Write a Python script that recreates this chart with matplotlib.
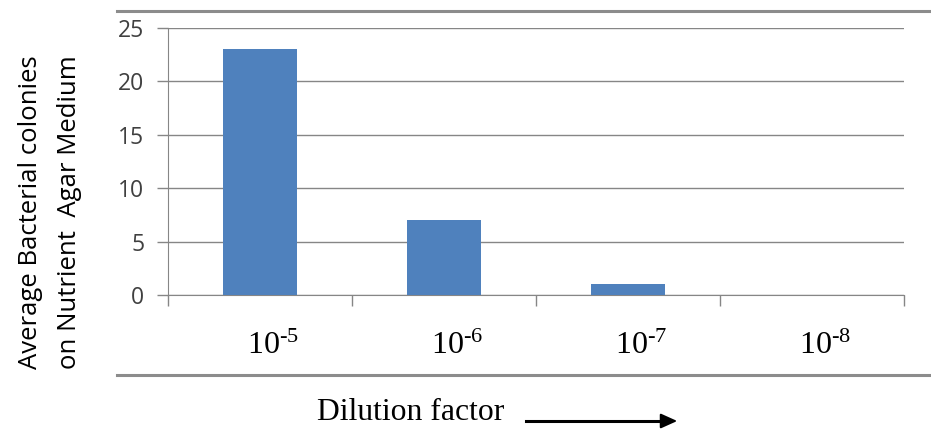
import numpy as np
import matplotlib
matplotlib.use("Agg")
import matplotlib.pyplot as plt
from matplotlib.lines import Line2D

# Datos
diluciones = ["-5", "-6", "-7", "-8"]
colonias = [23, 7, 1, 0]
ticks_y = [0, 5, 10, 15, 20, 25]

plt.rcParams['mathtext.fontset'] = 'custom'
plt.rcParams['mathtext.rm'] = 'Liberation Serif'
plt.rcParams['mathtext.it'] = 'Liberation Serif'

W, H = 931, 430
fig = plt.figure(figsize=(W / 100, H / 100), dpi=100)
ax = fig.add_axes([168 / W, 1 - 295 / H, (904 - 168) / W, (295 - 28) / H])

gris = '#868686'
x = np.arange(len(colonias))
ax.bar(x, colonias, width=0.4, color='#4F81BD', zorder=3)

ax.set_xlim(-0.5, len(colonias) - 0.5)
ax.set_ylim(0, 25)
ax.set_yticks(ticks_y)
ax.set_yticklabels([str(t) for t in ticks_y], fontfamily='Open Sans', fontsize=16.5, color='#404040')
ax.yaxis.grid(True, color=gris, linewidth=1.0, zorder=0)

# ticks del eje x en los límites de categoría
ax.set_xticks(np.arange(-0.5, len(colonias), 1.0))
ax.set_xticklabels([])
ax.tick_params(axis='x', direction='out', length=8, color=gris, width=1)
ax.tick_params(axis='y', direction='out', length=8, color=gris, width=1, pad=9)
for i, d in enumerate(diluciones):
    ax.text(i + 0.07, -0.13, r'$\mathrm{10}^{\text{' + d + '}}$', transform=ax.get_xaxis_transform(),
            ha='center', va='top', fontsize=23, color='black')

for s in ['top', 'right']:
    ax.spines[s].set_visible(False)
ax.spines['left'].set_color(gris)
ax.spines['bottom'].set_color(gris)

# líneas horizontales del marco
fig.add_artist(Line2D([117 / W, 1], [1 - 11 / H] * 2, color='#8c8c8c', linewidth=2.2))
fig.add_artist(Line2D([117 / W, 1], [1 - 375 / H] * 2, color='#8c8c8c', linewidth=2.2))

fig.text(31 / W, 1 - 212 / H, 'Average Bacterial colonies', rotation=90,
         ha='center', va='center', fontfamily='Open Sans', fontsize=18.5, color='black')
fig.text(70 / W, 1 - 212 / H, 'on Nutrient  Agar Medium', rotation=90,
         ha='center', va='center', fontfamily='Open Sans', fontsize=18.5, color='black')

fig.text(411 / W, 1 - 413 / H, 'Dilution factor', ha='center', va='center',
         fontfamily='Liberation Serif', fontsize=22.8, color='black')
fig.add_artist(plt.Line2D([526 / W, 668 / W], [1 - 421 / H] * 2, color='black', linewidth=2.2))
ax.annotate('', xy=(680 / W, 1 - 421 / H), xytext=(660 / W, 1 - 421 / H),
            xycoords='figure fraction', textcoords='figure fraction',
            arrowprops=dict(arrowstyle='-|>,head_length=1.0,head_width=0.45', color='black', lw=1.5))

fig.savefig('out.png', dpi=100)
